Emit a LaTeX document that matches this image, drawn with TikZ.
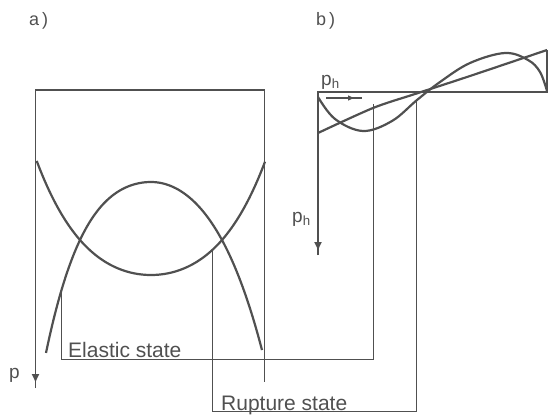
\documentclass[tikz,border=0pt]{standalone}
\usepackage{fontspec}
\setmainfont{Liberation Sans}
\usetikzlibrary{arrows.meta}
\definecolor{ink}{HTML}{505050}
\begin{document}
\begin{tikzpicture}[x=1pt,y=-1pt,>={Triangle[width=7pt,length=8pt]},
    every node/.style={inner sep=0pt,text=ink},
    frame/.style={draw=ink,line width=1.8pt},
    curve/.style={draw=ink,line width=2.2pt},
    bracket/.style={draw=ink,line width=1.3pt},
    lbl/.style={font=\fontsize{21}{24}\selectfont,anchor=base west},
    tag/.style={font=\fontsize{18}{21}\selectfont,anchor=base west}]
  \useasboundingbox (0,0) rectangle (548,415);
    % a) load axis p pointing down, frame of the section
    \draw[frame] (35.5,388) -- (35.5,90) -- (264.5,90) -- (264.5,382);
    \draw[frame,->] (35.5,368) -- (35.5,382);
    \draw[curve] plot[domain=36.7:265,samples=90,smooth]
      (\x,{275-58.2*((\x-151)/100)^2-22.3*((\x-151)/100)^4});
    \draw[curve] plot[domain=46:151,samples=50,smooth]
      (\x,{182+81.4*((\x-151)/100)^2+66.8*((\x-151)/100)^4})
      -- plot[domain=151:262,samples=50,smooth]
      (\x,{182+100.4*((\x-151)/100)^2+29.2*((\x-151)/100)^4});
    % b) horizontal pressure p_h
    \draw[frame] (318,255) -- (318,92) -- (548,92);
    \draw[frame] (547,92) -- (547,50);
    \draw[frame,->] (318,238) -- (318,250);
    \draw[curve] plot[smooth,tension=0.6] coordinates
      {(318,97) (335,119) (363,131) (392,121) (417,100) (440,82)
       (470,63) (505,53) (528,60) (540,72) (547,91)};
    \draw[curve] plot[smooth] coordinates
      {(318,133) (373,108) (415,94) (470,76) (547,50)};
    \draw[bracket] (326,98) -- (362,98);
    \draw[bracket,-{Triangle[width=5pt,length=6pt]}] (340,98) -- (354,98);
    % states carried across both panels
    \draw[bracket] (61.7,291) -- (61.7,359.3) -- (373.3,359.3) -- (373.3,104);
    \draw[bracket] (212.3,250) -- (212.3,411.7) -- (416.7,411.7) -- (416.7,99.5);
    \node[tag] (ta) at (29,25.5) {a\,)};
    \node[tag] (tb) at (316,25.5) {b\,)};
    \node[tag,font=\fontsize{19}{22}\selectfont] (p) at (9,378) {p};
    \node[tag,font=\fontsize{19}{22}\selectfont] (ph1) at (321,85) {p\textsubscript{h}};
    \node[tag,font=\fontsize{19}{22}\selectfont] (ph2) at (292,222) {p\textsubscript{h}};
    \node[lbl] (el) at (68,357) {Elastic state};
    \node[lbl] (ru) at (221,410) {Rupture state};
  \end{tikzpicture}
\end{document}
